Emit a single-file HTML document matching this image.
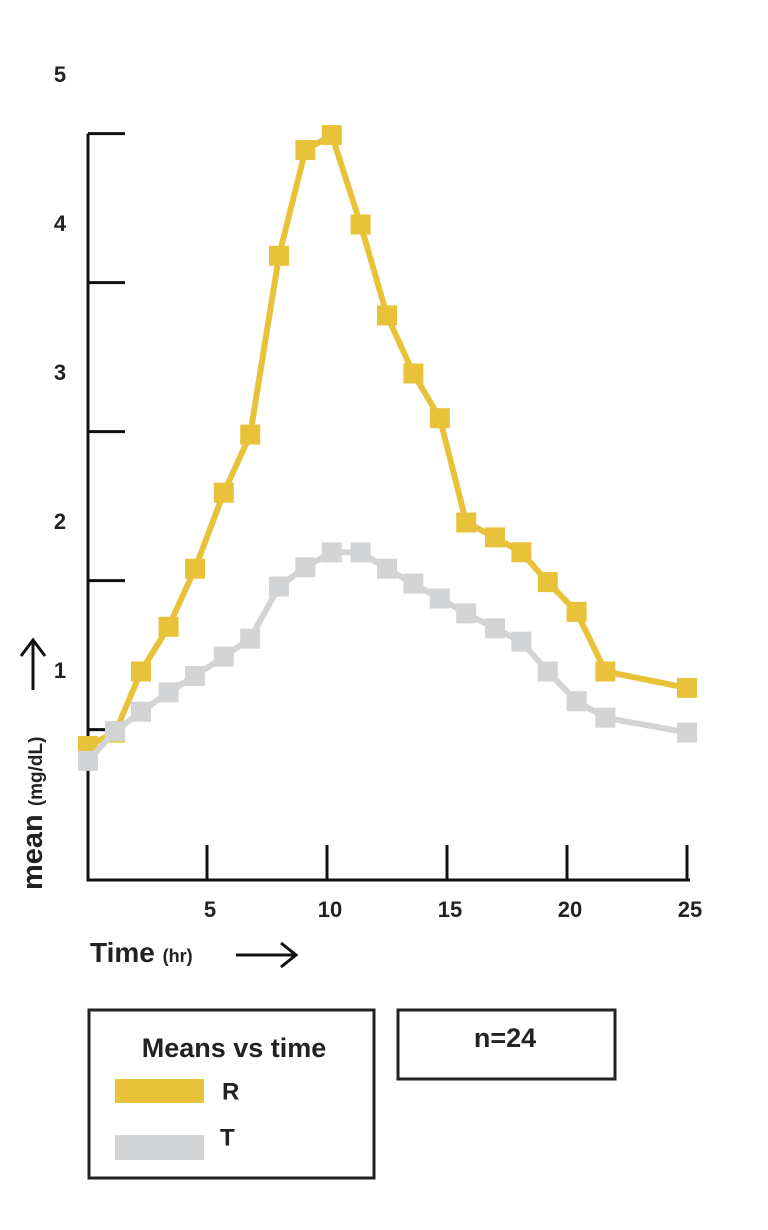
<!DOCTYPE html>
<html><head><meta charset="utf-8"><style>
body{margin:0;background:#fff;}
svg text{font-family:"Liberation Sans",sans-serif;font-weight:bold;fill:#222;}
</style></head><body>
<svg width="768" height="1225" viewBox="0 0 768 1225" xmlns="http://www.w3.org/2000/svg">
<g id="axes"></g>
<g id="series"></g>
<text x="42" y="890" font-size="29" transform="rotate(-90 42 890)">mean <tspan font-size="19">(mg/dL)</tspan></text>
<g>
<line x1="33" y1="690" x2="33" y2="641" stroke="#111" stroke-width="3"/>
<polyline points="21,656 33,640 45,656" fill="none" stroke="#111" stroke-width="3"/>
</g>
<text x="90" y="962" font-size="28">Time <tspan font-size="18">(hr)</tspan></text>
<g>
<line x1="236" y1="955" x2="294" y2="955" stroke="#111" stroke-width="3"/>
<polyline points="281,943 296,955 281,967" fill="none" stroke="#111" stroke-width="3"/>
</g>
<g>
<rect x="89" y="1010" width="285" height="168" fill="none" stroke="#222" stroke-width="3"/>
<text x="234" y="1057" font-size="27" text-anchor="middle">Means vs time</text>
<rect x="115" y="1079" width="89" height="24" fill="#e8c33a"/>
<text x="222" y="1093" font-size="24" dominant-baseline="middle">R</text>
<rect x="115" y="1135" width="89" height="25" fill="#d3d4d5"/>
<text x="220" y="1139" font-size="24" dominant-baseline="middle">T</text>
</g>
<g>
<rect x="398" y="1010" width="217" height="69" fill="none" stroke="#222" stroke-width="3"/>
<text x="505" y="1047" font-size="27" text-anchor="middle">n=24</text>
</g>
</svg>
<script>
const hours = [0.04,1.17,2.25,3.4,4.5,5.7,6.8,8,9.1,10.2,11.4,12.5,13.6,14.7,15.8,17,18.1,19.2,20.4,21.6,25];
const seriesR = [0.49,0.58,0.99,1.29,1.68,2.19,2.58,3.78,4.49,4.59,3.99,3.38,2.99,2.69,1.99,1.89,1.79,1.59,1.39,0.99,0.88];
const seriesT = [0.39,0.59,0.72,0.85,0.96,1.09,1.21,1.56,1.69,1.79,1.79,1.68,1.58,1.48,1.38,1.28,1.19,0.99,0.79,0.68,0.58];
const yTickLabels = [1,2,3,4,5];
const yTickMarks = [0.6,1.6,2.6,3.6,4.6];
const xTickLabels = [5,10,15,20,25];
const NS='http://www.w3.org/2000/svg';
function xs(h){return 87+24*h;}
function ys(v){return 819-149*v;}
function mk(t,a,p){const e=document.createElementNS(NS,t);for(const k in a)e.setAttribute(k,a[k]);p.appendChild(e);return e;}
const ax=document.getElementById('axes');
let l=mk('polyline',{points:'88,'+ys(4.6)+' 88,880 690,880',fill:'none',stroke:'#111','stroke-width':3},ax);


yTickMarks.forEach(v=>{const t=mk('line',{x1:88,x2:125,y1:ys(v),y2:ys(v),stroke:'#111','stroke-width':3},ax);

});
yTickLabels.forEach(v=>{const t=mk('text',{x:60,y:ys(v)+8,'font-size':22,'text-anchor':'middle'},ax);t.textContent=v;

});
xTickLabels.forEach(v=>{const t=mk('line',{x1:xs(v),x2:xs(v),y1:845,y2:880,stroke:'#111','stroke-width':3},ax);


const tx=mk('text',{x:xs(v)+3,y:917,'font-size':22,'text-anchor':'middle','font-weight':'normal'},ax);tx.textContent=v;

});
const sg=document.getElementById('series');
function draw(vals,color,name){
const g=mk('g',{},sg);


const pl=mk('polyline',{points:vals.map((v,i)=>xs(hours[i])+','+ys(v)).join(' '),fill:'none',stroke:color,'stroke-width':6,'stroke-linejoin':'round'},g);


vals.forEach((v,i)=>{const r=mk('rect',{x:xs(hours[i])-10,y:ys(v)-10,width:20,height:20,fill:color},g);

});
}
draw(seriesR,'#e8c33a','series-r');
draw(seriesT,'#d3d4d5','series-t');
</script>
</body></html>
